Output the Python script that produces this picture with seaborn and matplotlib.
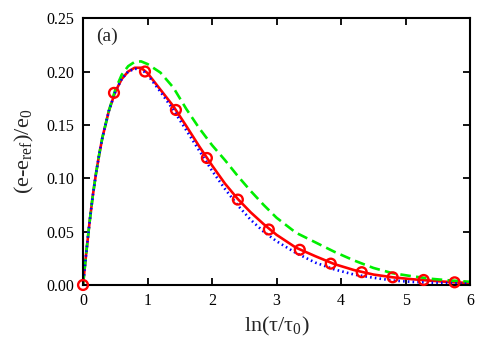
import numpy as np
import pandas as pd
import seaborn as sns
import matplotlib.pyplot as plt

# curve samples
x_curve = [0, 0.05, 0.1, 0.15, 0.2, 0.25, 0.3, 0.4, 0.5, 0.6, 0.7, 0.8, 0.9, 1.0,
           1.2, 1.4, 1.6, 1.8, 2.0, 2.2, 2.4, 2.6, 2.8, 3.0, 3.3, 3.6, 3.9, 4.2,
           4.5, 4.8, 5.1, 5.4, 5.7, 6.0]
red_curve = [0, 0.030, 0.058, 0.083, 0.104, 0.122, 0.138, 0.163, 0.181, 0.193, 0.200,
             0.2035, 0.2035, 0.1985, 0.183, 0.1675, 0.149, 0.130, 0.112, 0.095, 0.0805,
             0.068, 0.057, 0.047, 0.035, 0.027, 0.0195, 0.014, 0.0098, 0.0072, 0.0054,
             0.0040, 0.0027, 0.0018]
green_curve = [0, 0.030, 0.058, 0.083, 0.104, 0.122, 0.138, 0.163, 0.183, 0.197, 0.205,
               0.209, 0.2095, 0.207, 0.199, 0.185, 0.165, 0.147, 0.131, 0.117, 0.102,
               0.088, 0.075, 0.063, 0.049, 0.040, 0.031, 0.023, 0.016, 0.011, 0.0082,
               0.0058, 0.0042, 0.003]
blue_curve = [0, 0.030, 0.058, 0.083, 0.104, 0.122, 0.138, 0.163, 0.181, 0.193, 0.200,
              0.2025, 0.2025, 0.197, 0.181, 0.164, 0.145, 0.126, 0.107, 0.090, 0.0745,
              0.061, 0.050, 0.041, 0.030, 0.021, 0.0145, 0.0098, 0.0068, 0.0042, 0.0029,
              0.0021, 0.0016, 0.0013]

# open circles
x_points = [0, 0.48, 0.96, 1.44, 1.92, 2.40, 2.88, 3.36, 3.84, 4.32, 4.80, 5.28, 5.76]
y_points = [0, 0.180, 0.200, 0.164, 0.119, 0.080, 0.052, 0.033, 0.020, 0.012, 0.0072,
            0.0047, 0.0025]

sns.set_theme(style="ticks")
plt.rcParams['font.family'] = ['Liberation Serif', 'DejaVu Serif']
plt.rcParams['mathtext.fontset'] = 'custom'
plt.rcParams['mathtext.rm'] = 'Liberation Serif'
plt.rcParams['mathtext.it'] = 'Liberation Serif:italic'

df = pd.DataFrame({"x": x_curve, "red": red_curve, "green": green_curve, "blue": blue_curve})

fig = plt.figure(figsize=(4.98, 3.49), dpi=100)
ax = fig.add_axes([0.1667, 0.1834, 0.7773, 0.7646])

sns.lineplot(data=df, x="x", y="red", color="#ff0000", linewidth=1.9, ax=ax)
sns.lineplot(data=df, x="x", y="green", color="#00ee00", linewidth=1.9,
             linestyle=(0, (4, 2.0)), ax=ax)
sns.lineplot(data=df, x="x", y="blue", color="#0000ff", linewidth=1.9,
             linestyle=(0, (0.6, 1.2)), ax=ax)
sns.scatterplot(x=x_points, y=y_points, marker="o", s=50, facecolors="none",
                edgecolor="#ff0000", linewidth=1.7, zorder=5, clip_on=False, ax=ax)

ax.set_xlim(0, 6)
ax.set_ylim(0, 0.25)
ax.set_xticks(range(7))
ax.set_yticks(np.arange(0, 0.26, 0.05))
ax.set_yticklabels(["%.2f" % v for v in np.arange(0, 0.26, 0.05)])
ax.tick_params(direction="in", length=5, width=1.3, top=True, right=True,
               labelsize=11.5, pad=6, colors="black")
for s in ax.spines.values():
    s.set_linewidth(1.5)
    s.set_color("black")

ax.set_xlabel(r"ln($\mathregular{\tau/\tau_0}$)", fontsize=16, labelpad=4)
ax.set_ylabel(r"(e-e$\mathregular{_{ref}}$)/e$\mathregular{_0}$", fontsize=16, labelpad=8)
ax.text(0.035, 0.965, "(a)", transform=ax.transAxes, fontsize=14, va="top", ha="left")

fig.savefig("out.png", dpi=100)
